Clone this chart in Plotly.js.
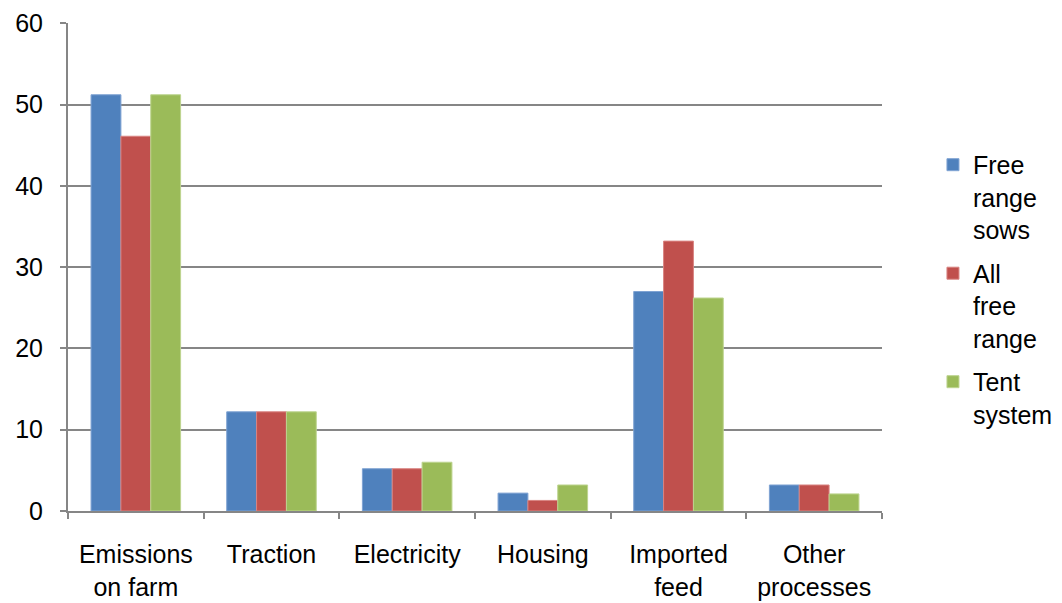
<!DOCTYPE html>
<html><head><meta charset="utf-8">
<script src="https://cdn.plot.ly/plotly-3.0.1.min.js"></script>
<style>html,body{margin:0;padding:0;background:#fff}</style>
</head><body>
<div id="chart" style="width:1062px;height:603px"></div>
<script>
const categories = ["Emissions<br>on farm", "Traction", "Electricity", "Housing", "Imported<br>feed", "Other<br>processes"];
const seriesNames = ["Free<br>range<br>sows", "All<br>free<br>range", "Tent<br>system"];
const freeRangeSows = [51.2, 12.2, 5.2, 2.2, 27.0, 3.2];
const allFreeRange = [46.1, 12.2, 5.2, 1.3, 33.2, 3.2];
const tentSystem = [51.2, 12.2, 6.0, 3.2, 26.2, 2.1];
const colors = ["#4F81BD", "#C0504D", "#9BBB59"];
const lineColors = ["#7FA3D3", "#D98482", "#BDD48F"];
const seriesValues = [freeRangeSows, allFreeRange, tentSystem];

const traces = seriesValues.map((vals, i) => ({
  type: "bar",
  x: categories,
  y: vals,
  name: seriesNames[i],
  legendgroup: "g" + i,
  marker: {color: colors[i], line: {color: lineColors[i], width: 1}}
}));

const layout = {
  width: 1062, height: 603,
  margin: {l: 68, r: 180, t: 23, b: 92},
  paper_bgcolor: "#fff", plot_bgcolor: "#fff",
  font: {family: "Liberation Sans, Arial, sans-serif", size: 25, color: "#000"},
  barmode: "group",
  bargap: 0.34,
  bargroupgap: 0,
  showlegend: true,
  legend: {xref: "container", yref: "container", x: 0.8785, xanchor: "left", y: 0.52, yanchor: "middle",
           font: {size: 25}, valign: "top", tracegroupgap: 8, itemwidth: 30, bgcolor: "rgba(0,0,0,0)"},
  xaxis: {
    type: "category",
    showline: true, linecolor: "#868686", linewidth: 2,
    ticks: "outside", tickson: "boundaries", ticklen: 6, tickcolor: "#868686", tickwidth: 2,
    showgrid: false, tickfont: {size: 25}, ticklabelstandoff: 20, automargin: false
  },
  yaxis: {
    range: [0, 60.03], tickvals: [0, 10, 20, 30, 40, 50, 60],
    showline: true, linecolor: "#868686", linewidth: 2,
    ticks: "outside", ticklen: 6, tickcolor: "#868686", tickwidth: 2,
    showgrid: true, gridcolor: "#868686", gridwidth: 2,
    zeroline: false, tickfont: {size: 25}, ticklabelstandoff: 12, automargin: false
  }
};
Plotly.newPlot("chart", traces, layout, {displayModeBar: false});
</script>
</body></html>
